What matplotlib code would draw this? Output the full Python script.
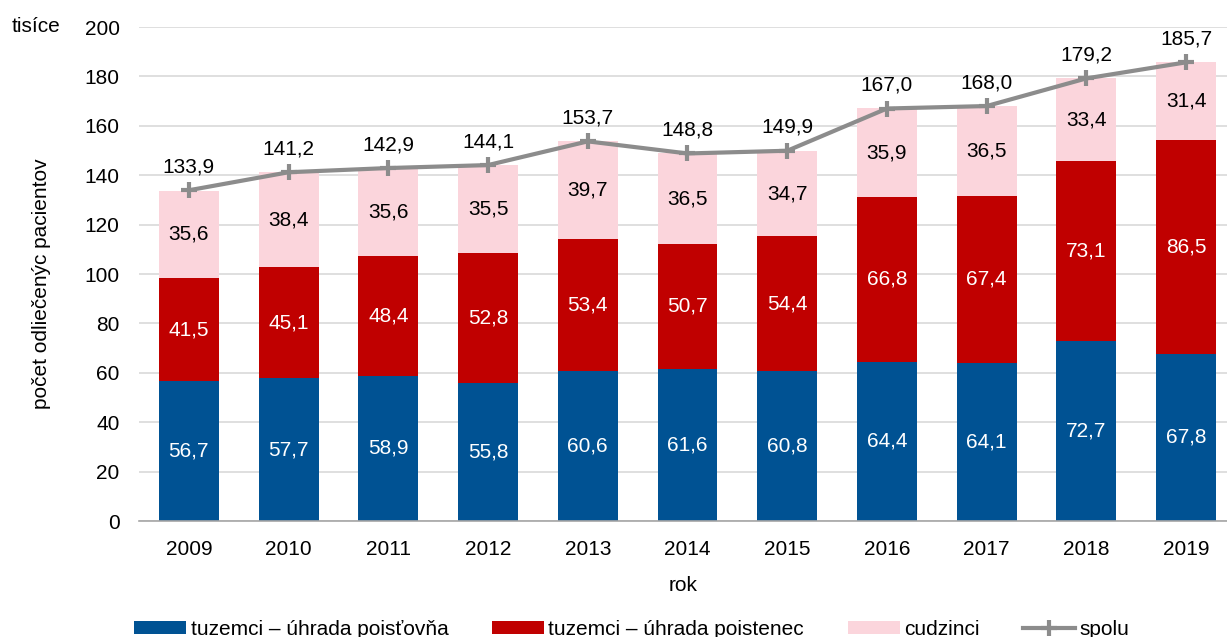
import numpy as np
import matplotlib.pyplot as plt

plt.rcParams['font.family'] = ['Liberation Sans', 'DejaVu Sans']

years = ["2009", "2010", "2011", "2012", "2013", "2014", "2015", "2016", "2017", "2018", "2019"]
poistovna = [56.7, 57.7, 58.9, 55.8, 60.6, 61.6, 60.8, 64.4, 64.1, 72.7, 67.8]
poistenec = [41.5, 45.1, 48.4, 52.8, 53.4, 50.7, 54.4, 66.8, 67.4, 73.1, 86.5]
cudzinci = [35.6, 38.4, 35.6, 35.5, 39.7, 36.5, 34.7, 35.9, 36.5, 33.4, 31.4]
spolu = [133.9, 141.2, 142.9, 144.1, 153.7, 148.8, 149.9, 167.0, 168.0, 179.2, 185.7]

c_blue = "#005293"
c_red = "#C00000"
c_pink = "#FBD5DC"
c_gray = "#8C8C8C"


def fmt(v):
    return f"{v:.1f}".replace(".", ",")


fig = plt.figure(figsize=(12.27, 6.37), dpi=100)
ax = fig.add_axes([0.1133, 0.1821, 0.8867, 0.7755])

x = np.arange(len(years))
w = 0.6
b1 = ax.bar(x, poistovna, w, color=c_blue, label="tuzemci – úhrada poisťovňa", zorder=2)
b2 = ax.bar(x, poistenec, w, bottom=poistovna, color=c_red,
            label="tuzemci – úhrada poistenec", zorder=2)
bottom3 = np.add(poistovna, poistenec)
b3 = ax.bar(x, cudzinci, w, bottom=bottom3, color=c_pink, label="cudzinci", zorder=2)
ln, = ax.plot(x, spolu, color=c_gray, lw=3, marker="+", ms=11, mew=3,
              label="spolu", zorder=3)

fs = 15
for i in range(len(years)):
    ax.text(x[i], poistovna[i] / 2, fmt(poistovna[i]), ha="center", va="center",
            color="white", fontsize=fs, zorder=4)
    ax.text(x[i], poistovna[i] + poistenec[i] / 2, fmt(poistenec[i]), ha="center",
            va="center", color="white", fontsize=fs, zorder=4)
    ax.text(x[i], bottom3[i] + cudzinci[i] / 2, fmt(cudzinci[i]), ha="center",
            va="center", color="black", fontsize=fs, zorder=4)
    ax.annotate(fmt(spolu[i]), (x[i], spolu[i]), xytext=(0, 10),
                textcoords="offset points", ha="center", va="bottom",
                fontsize=fs, zorder=4)

ax.set_xlim(-0.5, 10.41)
ax.set_ylim(0, 200)
ax.set_yticks(np.arange(0, 201, 20))
ax.set_xticks(x)
ax.set_xticklabels(years)
ax.tick_params(axis="both", length=0, labelsize=fs)
ax.tick_params(axis="x", pad=14)
ax.tick_params(axis="y", pad=14)
ax.grid(axis="y", color="#D9D9D9", lw=1.2, zorder=0)
ax.set_axisbelow(True)
for s in ["top", "right", "left"]:
    ax.spines[s].set_visible(False)
ax.spines["bottom"].set_color("#A6A6A6")
ax.spines["bottom"].set_linewidth(1.2)

ax.set_xlabel("rok", fontsize=fs, labelpad=12)
fig.text(0.034, 0.555, "počet odliečenýc pacientov", rotation=90, ha="center",
         va="center", fontsize=fs)
fig.text(0.029, 0.958, "tisíce", ha="center", va="center", fontsize=fs)

fig.legend(handles=[b1, b2, b3, ln], loc="center", bbox_to_anchor=(0.515, 0.012),
           ncol=4, frameon=False, fontsize=fs, handlelength=2.5, handleheight=0.6,
           handletextpad=0.2, columnspacing=2.1)

fig.savefig("out.png", dpi=100)
